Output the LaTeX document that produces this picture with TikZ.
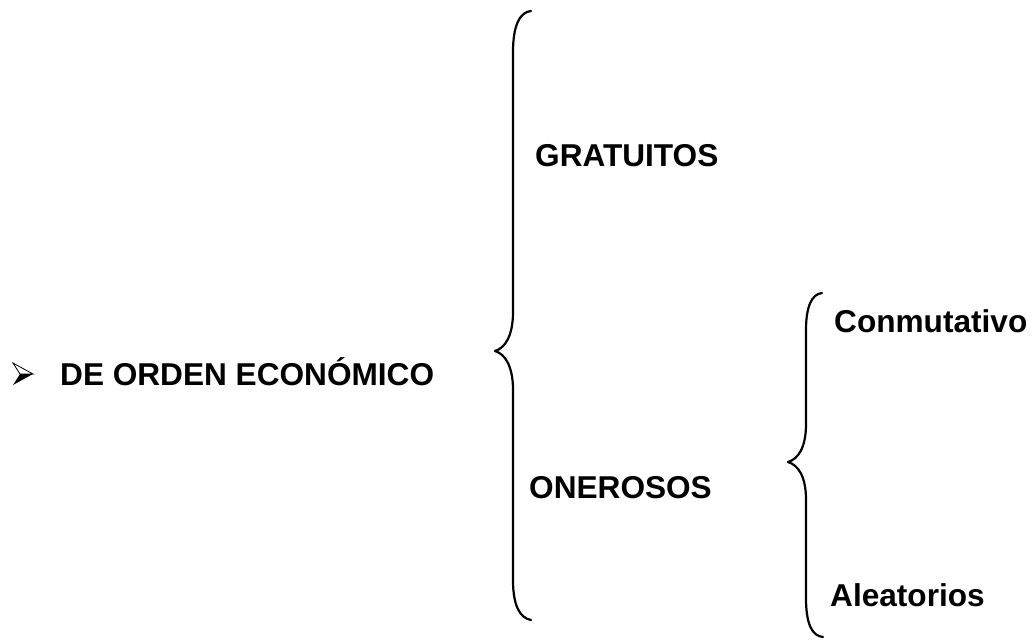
\documentclass[tikz,border=0pt]{standalone}
\usepackage{fontspec}
\setmainfont{Liberation Sans}
\begin{document}
\begin{tikzpicture}[x=1pt,y=-1pt,
  lbl/.style={anchor=base west,inner sep=0pt,font=\fontsize{31.6}{36}\selectfont\bfseries},
  brace/.style={line width=2.2pt,line cap=round,line join=round}]
\useasboundingbox[fill=white] (0,0) rectangle (1035,640);
% bullet arrowhead
\fill[black] (20,374) -- (33,374) -- (13,385) -- cycle;
\draw[line width=0.8pt,line join=miter] (13,363) -- (33,374) -- (20,374) -- cycle;
% labels
\node[lbl] (main) at (60,385) {DE ORDEN ECONÓMICO};
\node[lbl] (grat) at (535,166) {GRATUITOS};
\node[lbl] (oner) at (529,498) {ONEROSOS};
\node[lbl] (conm) at (834,332) {Conmutativo};
\node[lbl] (alea) at (830,606) {Aleatorios};
% big brace
\draw[brace] (531,11) .. controls (520,12) and (513,25) .. (513,52) -- (513,312)
  .. controls (513,336) and (505,348) .. (495,351)
  .. controls (505,354) and (513,366) .. (513,390) -- (513,580)
  .. controls (513,606) and (520,618) .. (531,620);
% small brace
\draw[brace] (822,293) .. controls (812,294) and (806,306) .. (806,330) -- (806,424)
  .. controls (806,448) and (798,459) .. (788,462)
  .. controls (798,465) and (806,476) .. (806,500) -- (806,598)
  .. controls (806,624) and (812,636) .. (823,637);
\end{tikzpicture}
\end{document}
